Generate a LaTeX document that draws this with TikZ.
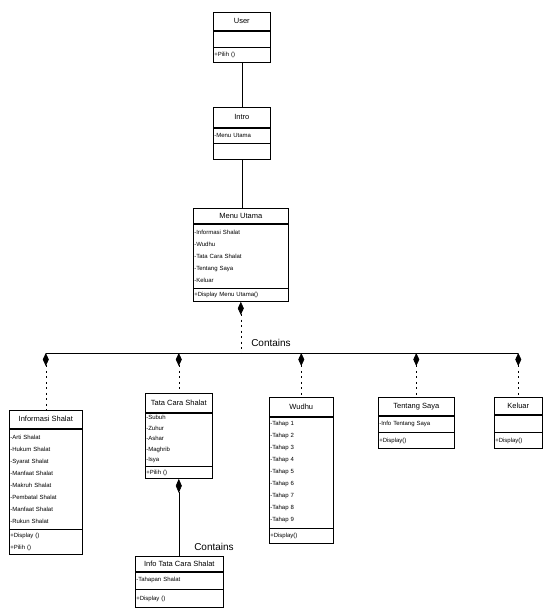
\documentclass[tikz,border=0pt]{standalone}
\usepackage{fontspec}
\setmainfont{Liberation Sans}
\usetikzlibrary{arrows.meta, positioning}

\begin{document}
\begin{tikzpicture}[x=1pt, y=-1pt,
  every node/.style={font=\fontsize{6}{12}\selectfont},
  hd/.style={draw, line width=0.6pt, fill=white, inner sep=0.5pt, align=center, anchor=north west, font=\fontsize{7.5}{9}\selectfont},
  pt/.style={draw, line width=0.6pt, fill=white, inner xsep=1pt, inner ysep=0pt, align=left},
  a/.style={line width=0.6pt},
  c/.style={a, dash pattern=on 2pt off 3.5pt, {Diamond[length=13pt, width=6pt]}-}]
\useasboundingbox (0,0) rectangle (546,608);
% classes
\node[hd, minimum width=57pt, minimum height=18pt] (user) at (213,12) {User};
\node[pt, text width=55pt, minimum height=16pt, below=0pt of user] (user-a) {};
\node[pt, text width=55pt, minimum height=15pt, below=0pt of user-a] (user-o) {+Pilih ()};

\node[hd, minimum width=57pt, minimum height=20pt] (intro) at (213,107) {Intro};
\node[pt, text width=55pt, minimum height=15pt, below=0pt of intro] (intro-a) {-Menu Utama};
\node[pt, text width=55pt, minimum height=16pt, below=0pt of intro-a] (intro-o) {};

\node[hd, minimum width=95pt, minimum height=15pt] (menu) at (193,208) {Menu Utama};
\node[pt, text width=93pt, minimum height=64pt, below=0pt of menu] (menu-a) {-Informasi Shalat\\-Wudhu\\-Tata Cara Shalat\\-Tentang Saya\\-Keluar};
\node[pt, text width=93pt, minimum height=13pt, below=0pt of menu-a] (menu-o) {+Display Menu Utama()};

\node[hd, minimum width=73pt, minimum height=18pt] (info) at (9,410) {Informasi Shalat};
\node[pt, text width=71pt, minimum height=100pt, below=0pt of info] (info-a) {-Arti Shalat\\-Hukum Shalat\\-Syarat Shalat\\-Manfaat Shalat\\-Makruh Shalat\\-Pembatal Shalat\\-Manfaat Shalat\\-Rukun Shalat};
\node[pt, text width=71pt, minimum height=25pt, below=0pt of info-a] (info-o) {+Display ()\\+Pilih ()};

\node[hd, minimum width=67pt, minimum height=19pt] (tata) at (145,393) {Tata Cara Shalat};
\node[pt, text width=65pt, minimum height=53pt, below=0pt of tata, font=\fontsize{6}{10.5}\selectfont] (tata-a) {-Subuh\\-Zuhur\\-Ashar\\-Maghrib\\-Isya};
\node[pt, text width=65pt, minimum height=12pt, below=0pt of tata-a] (tata-o) {+Pilih ()};

\node[hd, minimum width=64pt, minimum height=19pt] (wudhu) at (269,397) {Wudhu};
\node[pt, text width=62pt, minimum height=111pt, below=0pt of wudhu] (wudhu-a) {-Tahap 1\\-Tahap 2\\-Tahap 3\\-Tahap 4\\-Tahap 5\\-Tahap 6\\-Tahap 7\\-Tahap 8\\-Tahap 9};
\node[pt, text width=62pt, minimum height=15pt, below=0pt of wudhu-a] (wudhu-o) {+Display()};

\node[hd, minimum width=76pt, minimum height=18pt] (saya) at (378,397) {Tentang Saya};
\node[pt, text width=74pt, minimum height=16pt, below=0pt of saya] (saya-a) {-Info Tentang Saya};
\node[pt, text width=74pt, minimum height=16pt, below=0pt of saya-a] (saya-o) {+Display()};

\node[hd, minimum width=48pt, minimum height=17pt] (kel) at (494,397) {Keluar};
\node[pt, text width=46pt, minimum height=17pt, below=0pt of kel] (kel-a) {};
\node[pt, text width=46pt, minimum height=16pt, below=0pt of kel-a] (kel-o) {+Display()};

\node[hd, minimum width=88pt, minimum height=15pt] (itcs) at (135,556) {Info Tata Cara Shalat};
\node[pt, text width=86pt, minimum height=17pt, below=0pt of itcs] (itcs-a) {-Tahapan Shalat};
\node[pt, text width=86pt, minimum height=18pt, below=0pt of itcs-a] (itcs-o) {+Display ()};

\node[font=\fontsize{10}{12}\selectfont] (lbl1) at (271,343) {Contains};
\node[font=\fontsize{10}{12}\selectfont] (lbl2) at (214,547) {Contains};

% connectors
\coordinate (bus) at (0,353);
\draw[a] (user-o) -- (intro);
\draw[a] (intro-o.south) -- (intro-o.south |- menu.north);
\draw[c] (menu-o.south) -- (menu-o.south |- bus);
\draw[a, line width=0.8pt] (info.north |- bus) -- (kel.north |- bus);
\draw[c] (info.north |- bus) -- (info.north);
\draw[c] (tata.north |- bus) -- (tata.north);
\draw[c] (wudhu.north |- bus) -- (wudhu.north);
\draw[c] (saya.north |- bus) -- (saya.north);
\draw[c] (kel.north |- bus) -- (kel.north);
\draw[a, {Diamond[length=14pt, width=6pt]}-] (tata-o.south) -- (tata-o.south |- itcs.north);
\end{tikzpicture}
\end{document}
